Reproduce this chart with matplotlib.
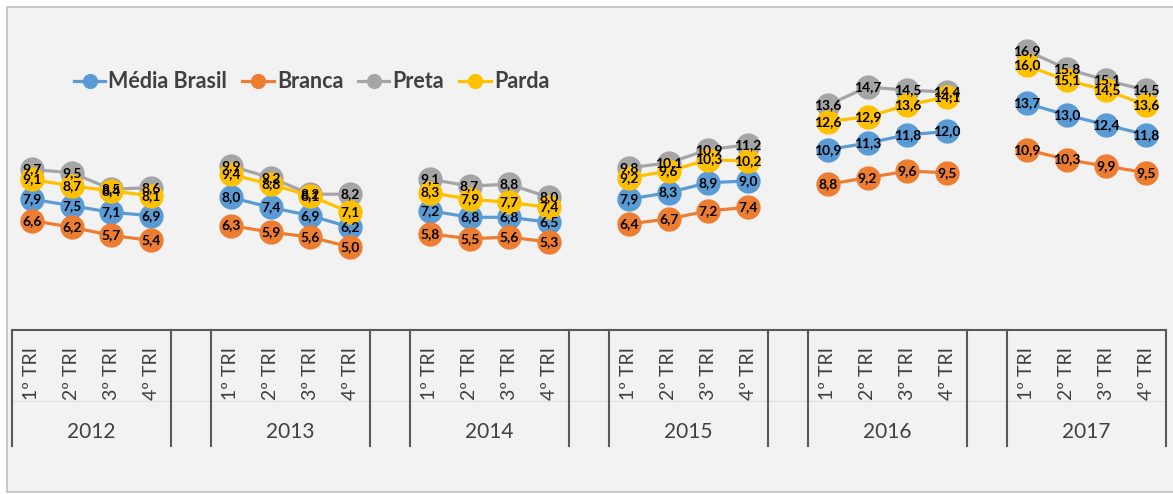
import matplotlib.pyplot as plt
from matplotlib.patches import Rectangle

plt.rcParams['font.family'] = ['Lato', 'DejaVu Sans']

years = ['2012', '2013', '2014', '2015', '2016', '2017']
quarters = ['1º TRI', '2º TRI', '3º TRI', '4º TRI']

media_brasil = [7.9, 7.5, 7.1, 6.9, 8.0, 7.4, 6.9, 6.2, 7.2, 6.8, 6.8, 6.5,
                7.9, 8.3, 8.9, 9.0, 10.9, 11.3, 11.8, 12.0, 13.7, 13.0, 12.4, 11.8]
branca = [6.6, 6.2, 5.7, 5.4, 6.3, 5.9, 5.6, 5.0, 5.8, 5.5, 5.6, 5.3,
          6.4, 6.7, 7.2, 7.4, 8.8, 9.2, 9.6, 9.5, 10.9, 10.3, 9.9, 9.5]
preta = [9.7, 9.5, 8.5, 8.6, 9.9, 9.2, 8.2, 8.2, 9.1, 8.7, 8.8, 8.0,
         9.8, 10.1, 10.9, 11.2, 13.6, 14.7, 14.5, 14.4, 16.9, 15.8, 15.1, 14.5]
parda = [9.1, 8.7, 8.4, 8.1, 9.4, 8.8, 8.1, 7.1, 8.3, 7.9, 7.7, 7.4,
         9.2, 9.6, 10.3, 10.2, 12.6, 12.9, 13.6, 14.1, 16.0, 15.1, 14.5, 13.6]

series = [('Média Brasil', media_brasil, '#5B9BD5'),
          ('Branca', branca, '#ED7D31'),
          ('Preta', preta, '#A5A5A5'),
          ('Parda', parda, '#FFC000')]

W, H = 1173, 494
fig = plt.figure(figsize=(W / 100, H / 100), dpi=100)
fig.patch.set_facecolor('white')
fig.patches.append(Rectangle((7 / W, 2 / H), 1.2, (H - 9) / H, transform=fig.transFigure,
                             facecolor='#F2F2F2', edgecolor='#C0C0C0', lw=1.2, zorder=-10))

ax_left, ax_right, ax_bot, ax_top = 12, 1166, 329.5, 8
ax = fig.add_axes([ax_left / W, (H - ax_bot) / H, (ax_right - ax_left) / W, (ax_bot - ax_top) / H])
ax.set_zorder(5)
ax.set_facecolor('none')
ax.set_xlim(-0.5, 28.5)
ax.set_ylim(0, (ax_bot - ax_top) / 16.5)
for s in ['top', 'right', 'left']:
    ax.spines[s].set_visible(False)
ax.spines['bottom'].set_color('#595959')
ax.spines['bottom'].set_linewidth(1.5)
ax.set_xticks([])
ax.set_yticks([])

ah = ax_bot - ax_top
yq = -(373 - ax_bot) / ah
yy = -(432 - ax_bot) / ah
ysep = -(446 - ax_bot) / ah
yfaint = -(401 - ax_bot) / ah
trans = ax.get_xaxis_transform()

ax.plot([-0.5, 28.5], [yfaint, yfaint], transform=trans, clip_on=False, color='#E0E0E0', lw=0.8)

labels = []
for i, yr in enumerate(years):
    xs = [i * 5 + q for q in range(4)]
    for k, (name, vals, col) in enumerate(series):
        v = vals[i * 4:i * 4 + 4]
        ax.plot(xs, v, color=col, lw=2.3, marker='o', markersize=16.5,
                label=name if i == 0 else None, zorder=2 + k, clip_on=False)
        labels += list(zip(xs, v))
    for b in (i * 5 - 0.5, i * 5 + 3.5):
        ax.plot([b, b], [0, ysep], transform=trans, clip_on=False, color='#595959', lw=1.5)
    for q, x in enumerate(xs):
        ax.text(x, yq, quarters[q], transform=trans, rotation=90, ha='center', va='center',
                fontsize=14, color='#404040')
    ax.text(i * 5 + 1.5, yy, yr, transform=trans, ha='center', va='center',
            fontsize=15, color='#404040')

for x, v in labels:
    ax.text(x, v, f'{v:.1f}'.replace('.', ','), ha='center', va='center',
            fontsize=10, fontweight='bold', color='black', zorder=10)

handles, names = ax.get_legend_handles_labels()
leg = fig.legend(handles, names, loc='center left', bbox_to_anchor=(74 / W, 1 - 82 / H), ncol=4,
                 frameon=False, borderpad=0, borderaxespad=0,
                 handlelength=1.45, handletextpad=0.15, columnspacing=0.7, markerscale=0.6,
                 prop={'size': 15.5, 'weight': 'bold'})
for t in leg.get_texts():
    t.set_color('#404040')

plt.savefig('out.png', dpi=100)
plt.close()
